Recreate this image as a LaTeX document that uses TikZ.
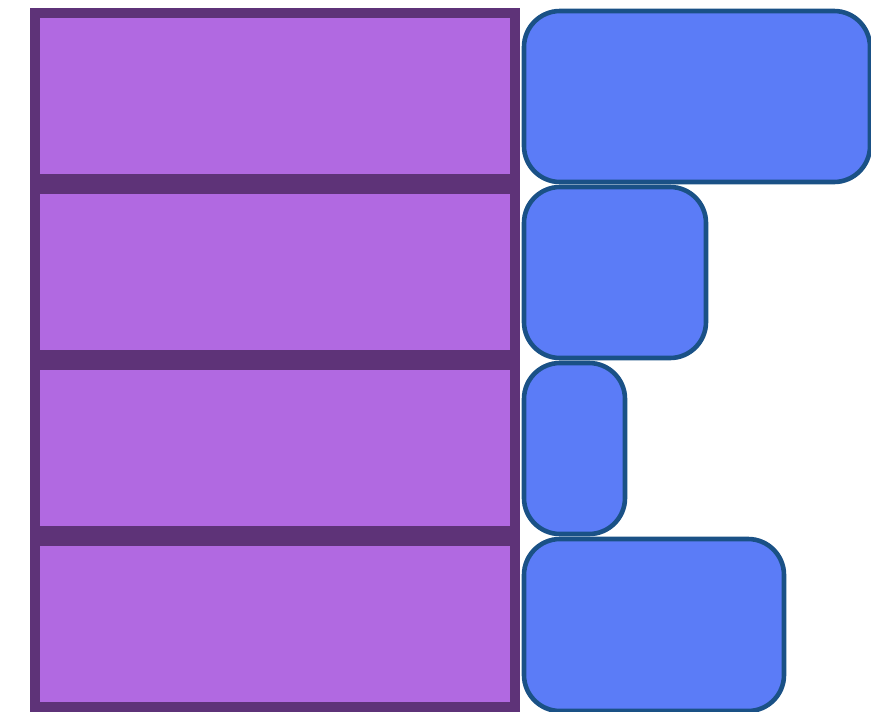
\documentclass[tikz,border=0pt]{standalone}
\usepackage{xcolor}
\usepackage{tikz}
\definecolor{barfill}{HTML}{B169E1}
\definecolor{barline}{HTML}{5E3378}
\definecolor{tabfill}{HTML}{5B7CF7}
\definecolor{tabline}{HTML}{1A5186}
\begin{document}
\begin{tikzpicture}[x=0.025cm,y=-0.025cm,
  bar/.style={draw=barline,fill=barfill,line width=0.25cm},
  tab/.style={draw=tabline,fill=tabfill,line width=0.115cm,rounded corners=0.9cm}]
\useasboundingbox (0,0) rectangle (871,712);
% left column of bars
\foreach \t in {8,184,360,536}
  \draw[bar] (35,\t+5) rectangle (515,\t+171);
% right column, rounded tabs of different length
\foreach \t/\w/\b in {8/870/174,184/706/174,360/625/174,536/784/175}
  \draw[tab] (524,\t+3) rectangle (\w,\t+\b);
\end{tikzpicture}
\end{document}
